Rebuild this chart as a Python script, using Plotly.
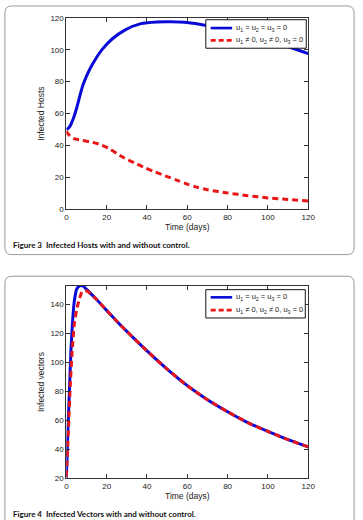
import plotly.graph_objects as go

W, H = 363, 520

# ---------------- Data ----------------
# Figure 3: Infected hosts
t_hosts_blue = [0, 1, 2, 3.5, 5, 8, 10, 13, 18, 23, 29, 37, 45, 52, 60, 70, 80, 90, 100, 110, 120]
hosts_no_control = [50, 50.8, 52.5, 57, 63, 77, 83.5, 91, 100.5, 107, 112.3, 116.3, 117.4, 117.5, 117, 115, 112.5, 109.5, 106, 102, 97.5]
t_hosts_red = [0, 1, 3.5, 8, 13, 17, 21, 25, 29, 34, 39, 44, 49, 55, 60, 65, 70, 80, 90, 100, 110, 120]
hosts_control = [49, 47, 44.5, 43.2, 42, 40.5, 38.2, 35, 32, 29, 26, 23.5, 21, 18.2, 15.8, 13.8, 12.3, 10.3, 8.6, 7.2, 6.2, 5.2]

# Figure 4: Infected vectors
t_vec_blue = [0, 0.65, 1.45, 2.26, 3.06, 3.9, 5.2, 6.8, 8.4, 10, 15, 20, 25, 30, 40, 50, 60, 70, 80, 90, 100, 110, 120]
vectors_no_control = [20.5, 49, 78, 108, 128, 142, 151, 153, 152.7, 150.5, 143.5, 136, 128.5, 121.5, 108, 95.4, 84, 74.3, 66, 58.5, 52.4, 46.7, 41.7]
t_vec_red = [0, 1.1, 1.9, 2.9, 3.9, 5.2, 6.5, 7.7, 8.7, 10, 12, 15, 20, 25, 30, 40, 50, 60, 70, 80, 90, 100, 110, 120]
vectors_control = [21, 56, 83, 108, 126, 137, 144, 148.6, 149.7, 149.5, 147.5, 143.5, 136, 128.5, 121.5, 108, 95.4, 84, 74.3, 66, 58.5, 52.4, 46.7, 41.7]

x_ticks = [0, 20, 40, 60, 80, 100, 120]
hosts_ticks = [0, 20, 40, 60, 80, 100, 120]
vector_ticks = [20, 40, 60, 80, 100, 120, 140]

name_no = "u<sub>1</sub> = u<sub>2</sub> = u<sub>3</sub> = 0"
name_ctrl = "u<sub>1</sub> \u2260 0, u<sub>2</sub> \u2260 0, u<sub>3</sub> = 0"

BLUE = "#0a0ad8"
RED = "#e81616"
FONT = "Liberation Sans"
DASH = "6px,4px"

def px_x(x):
    return x / W

def px_y(y):
    return 1 - y / H

fig = go.Figure()

fig.add_trace(go.Scatter(x=t_hosts_blue, y=hosts_no_control, mode="lines", name=name_no,
                         line=dict(color=BLUE, width=3, shape="spline", smoothing=0.8),
                         xaxis="x", yaxis="y", showlegend=False))
fig.add_trace(go.Scatter(x=t_hosts_red, y=hosts_control, mode="lines", name=name_ctrl,
                         line=dict(color=RED, width=3, dash=DASH, shape="spline", smoothing=0.8),
                         xaxis="x", yaxis="y", showlegend=False))
fig.add_trace(go.Scatter(x=t_vec_blue, y=vectors_no_control, mode="lines", name=name_no,
                         line=dict(color=BLUE, width=3, shape="spline", smoothing=0.6),
                         xaxis="x2", yaxis="y2", showlegend=False))
fig.add_trace(go.Scatter(x=t_vec_red, y=vectors_control, mode="lines", name=name_ctrl,
                         line=dict(color=RED, width=3, dash=DASH, shape="spline", smoothing=0.6),
                         xaxis="x2", yaxis="y2", showlegend=False))

axis_common = dict(showline=True, linecolor="#333", linewidth=1, mirror="ticks",
                   ticks="inside", ticklen=4, tickcolor="#333", showgrid=False, zeroline=False,
                   tickfont=dict(family=FONT, size=8, color="#222"))
title_font = dict(family=FONT, size=8.5, color="#222")

x_dom = [px_x(66), px_x(314)]

fig.update_layout(
    width=W, height=H,
    margin=dict(l=0, r=0, t=0, b=0),
    paper_bgcolor="white", plot_bgcolor="white",
    showlegend=False,
    xaxis=dict(domain=x_dom, range=[0, 120], tickvals=x_ticks, anchor="y",
               title=dict(text="Time (days)", font=title_font, standoff=2), **axis_common),
    yaxis=dict(domain=[px_y(209), px_y(14)], range=[0, 120], tickvals=hosts_ticks, anchor="x",
               title=dict(text="Infected Hosts", font=title_font, standoff=4), **axis_common),
    xaxis2=dict(domain=x_dom, range=[0, 120], tickvals=x_ticks, anchor="y2",
                title=dict(text="Time (days)", font=title_font, standoff=2), **axis_common),
    yaxis2=dict(domain=[px_y(482.7), px_y(286.7)], range=[20, 153], tickvals=vector_ticks, anchor="x2",
                title=dict(text="Infected vectors", font=title_font, standoff=4), **axis_common),
)

# ---- Legends (drawn as boxes, line samples and text) ----
def add_legend(x0, y0, x1, y1, row1, row2):
    fig.add_shape(type="rect", xref="paper", yref="paper",
                  x0=px_x(x0), x1=px_x(x1), y0=px_y(y0), y1=px_y(y1),
                  line=dict(color="#111", width=1), fillcolor="white", layer="above")
    for ry, color, dash, label in [(row1, BLUE, "solid", name_no), (row2, RED, "5px,3px", name_ctrl)]:
        fig.add_shape(type="line", xref="paper", yref="paper",
                      x0=px_x(214), x1=px_x(236), y0=px_y(ry), y1=px_y(ry),
                      line=dict(color=color, width=2.6, dash=dash), layer="above")
        fig.add_annotation(x=px_x(237.5), y=px_y(ry), xref="paper", yref="paper",
                           xanchor="left", yanchor="middle", text=label, showarrow=False,
                           font=dict(family=FONT, size=7.5, color="#222"))

add_legend(209, 16, 312, 45, 24.5, 37)
add_legend(209, 290.7, 311, 319.5, 298.5, 311.5)

def rounded_rect(x0, y0, x1, y1, r):
    rx, ry = r / W, r / H
    X0, X1 = px_x(x0), px_x(x1)
    Y0, Y1 = px_y(y0), px_y(y1)
    return (f"M {X0+rx},{Y0} L {X1-rx},{Y0} Q {X1},{Y0} {X1},{Y0-ry} "
            f"L {X1},{Y1+ry} Q {X1},{Y1} {X1-rx},{Y1} "
            f"L {X0+rx},{Y1} Q {X0},{Y1} {X0},{Y1+ry} "
            f"L {X0},{Y0-ry} Q {X0},{Y0} {X0+rx},{Y0} Z")

fig.add_shape(type="path", xref="paper", yref="paper", path=rounded_rect(3, 2, 361, 255, 7),
              line=dict(color="#9a9a9a", width=1), layer="below")
fig.add_shape(type="path", xref="paper", yref="paper", path=rounded_rect(3, 277, 361, 535, 7),
              line=dict(color="#9a9a9a", width=1), layer="below")

fig.add_annotation(x=px_x(9), y=px_y(245.5), xref="paper", yref="paper", xanchor="left", yanchor="middle",
                   text="<b>Figure 3  Infected Hosts with and without control.</b>", showarrow=False,
                   font=dict(family="Lato", size=8, color="#111"))
fig.add_annotation(x=px_x(9), y=px_y(518.5), xref="paper", yref="paper", xanchor="left", yanchor="middle",
                   text="<b>Figure 4  Infected Vectors with and without control.</b>", showarrow=False,
                   font=dict(family="Lato", size=8, color="#111"))

fig.write_html("out.html")
